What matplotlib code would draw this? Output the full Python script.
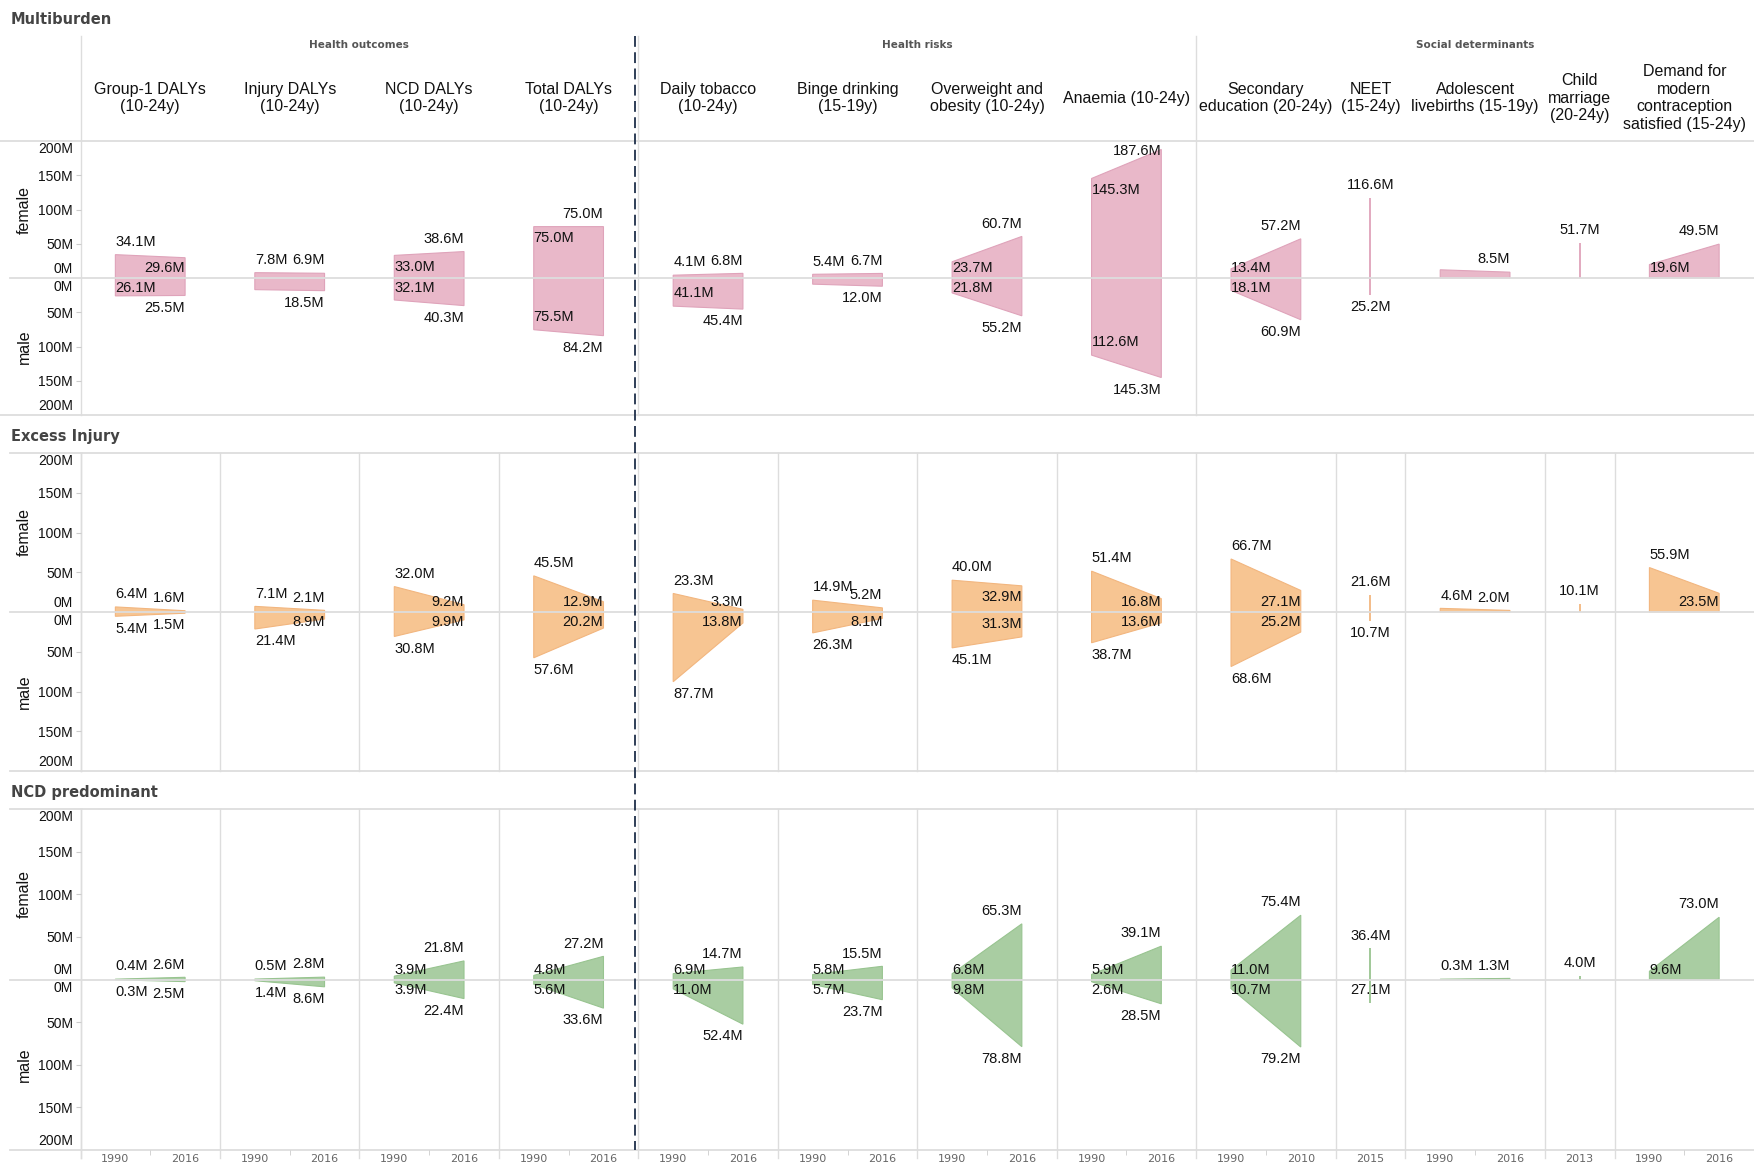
import matplotlib.pyplot as plt
import matplotlib.transforms as mtransforms
from matplotlib.lines import Line2D

plt.rcParams['font.family'] = ['Liberation Sans', 'DejaVu Sans']

W, H, DPI = 1754, 1167, 100

# indicator columns (title, years shown)
titles = ["Group-1 DALYs\n(10-24y)", "Injury DALYs\n(10-24y)", "NCD DALYs\n(10-24y)",
          "Total DALYs\n(10-24y)", "Daily tobacco\n(10-24y)", "Binge drinking\n(15-19y)",
          "Overweight and\nobesity (10-24y)", "Anaemia (10-24y)",
          "Secondary\neducation (20-24y)", "NEET\n(15-24y)", "Adolescent\nlivebirths (15-19y)",
          "Child\nmarriage\n(20-24y)", "Demand for\nmodern\ncontraception\nsatisfied (15-24y)"]
years = [("1990", "2016")] * 8 + [("1990", "2010"), ("2015",), ("1990", "2016"),
                                  ("2013",), ("1990", "2016")]
groups = [("Health outcomes", 0, 4), ("Health risks", 4, 8), ("Social determinants", 8, 13)]

row_names = ["Multiburden", "Excess Injury", "NCD predominant"]
fills = ["#E9B8C9", "#F7C592", "#A9CDA2"]
edges = ["#DFA3BA", "#F2B67F", "#98C490"]

# values in millions; label codes per year: o = outside, i = inside, - = no label
mb_female = [(34.1, 29.6), (7.8, 6.9), (33.0, 38.6), (75.0, 75.0), (4.1, 6.8), (5.4, 6.7),
             (23.7, 60.7), (145.3, 187.6), (13.4, 57.2), (116.6,), (12.0, 8.5), (51.7,), (19.6, 49.5)]
mb_female_lab = ["oi", "oo", "io", "io", "oo", "oo", "io", "io", "io", "o", "-o", "o", "io"]
mb_male = [(26.1, 25.5), (17.0, 18.5), (32.1, 40.3), (75.5, 84.2), (41.1, 45.4), (9.0, 12.0),
           (21.8, 55.2), (112.6, 145.3), (18.1, 60.9), (25.2,), None, None, None]
mb_male_lab = ["io", "-o", "io", "io", "io", "-o", "io", "io", "io", "o", "", "", ""]

ei_female = [(6.4, 1.6), (7.1, 2.1), (32.0, 9.2), (45.5, 12.9), (23.3, 3.3), (14.9, 5.2),
             (40.0, 32.9), (51.4, 16.8), (66.7, 27.1), (21.6,), (4.6, 2.0), (10.1,), (55.9, 23.5)]
ei_female_lab = ["oo", "oo", "oi", "oi", "oi", "oo", "oi", "oi", "oi", "o", "oo", "o", "oi"]
ei_male = [(5.4, 1.5), (21.4, 8.9), (30.8, 9.9), (57.6, 20.2), (87.7, 13.8), (26.3, 8.1),
           (45.1, 31.3), (38.7, 13.6), (68.6, 25.2), (10.7,), None, None, None]
ei_male_lab = ["oo", "oi", "oi", "oi", "oi", "oi", "oi", "oi", "oi", "o", "", "", ""]

ncd_female = [(0.4, 2.6), (0.5, 2.8), (3.9, 21.8), (4.8, 27.2), (6.9, 14.7), (5.8, 15.5),
              (6.8, 65.3), (5.9, 39.1), (11.0, 75.4), (36.4,), (0.3, 1.3), (4.0,), (9.6, 73.0)]
ncd_female_lab = ["oo", "oo", "io", "io", "io", "io", "io", "io", "io", "o", "oo", "o", "io"]
ncd_male = [(0.3, 2.5), (1.4, 8.6), (3.9, 22.4), (5.6, 33.6), (11.0, 52.4), (5.7, 23.7),
            (9.8, 78.8), (2.6, 28.5), (10.7, 79.2), (27.1,), None, None, None]
ncd_male_lab = ["oo", "oo", "io", "io", "io", "io", "io", "io", "io", "i", "", "", ""]

row_data = [(mb_female, mb_female_lab, mb_male, mb_male_lab),
            (ei_female, ei_female_lab, ei_male, ei_male_lab),
            (ncd_female, ncd_female_lab, ncd_male, ncd_male_lab)]

# layout in pixels
X0 = 80.5
row_px = [(141, 415), (453, 771), (809, 1150)]
row_title_y = [19, 436, 793]
widths = [len(y) for y in years]
starts = [sum(widths[:i]) for i in range(len(widths))]
NSLOT = sum(widths)

GRID = "#dddddd"
TXT = "#111111"
LAB_FS = 10.5
CAP = 0.716 * LAB_FS * DPI / 72

fig = plt.figure(figsize=(W / DPI, H / DPI), dpi=DPI)


def label(ax, x, v, side, mode, ha, ppm, half):
    p = v * ppm
    if mode == "o":
        c = p + (14 if side > 0 else 11)
    else:
        c = max(p - (10 if side > 0 else 14), 11 if side > 0 else 9)
    c = min(c, half - 9)
    ax.annotate(f"{v:.1f}M", xy=(x, 0), xytext=(0, side * c - CAP / 2),
                textcoords="offset pixels", ha=ha, va="baseline",
                fontsize=LAB_FS, color=TXT, zorder=5)


axes = []
for r, (top, bot) in enumerate(row_px):
    ax = fig.add_axes([X0 / W, 1 - bot / H, (W - X0) / W, (bot - top) / H])
    axes.append(ax)
    ax.set_xlim(0, NSLOT)
    ax.set_ylim(-200, 200)
    for s in ax.spines.values():
        s.set_visible(False)
    ppm = (bot - top) / 400.0
    half = (bot - top) / 2.0

    female, flab, male, mlab = row_data[r]
    for i in range(len(titles)):
        xs = [starts[i] + 0.5 + k for k in range(widths[i])]
        f = female[i]
        m = male[i] if male[i] is not None else (0,) * len(f)
        if len(xs) == 2:
            ax.fill([xs[0], xs[1], xs[1], xs[0]], [f[0], f[1], -m[1], -m[0]],
                    facecolor=fills[r], edgecolor=edges[r], lw=0.8, zorder=2)
            has = ["left", "right"]
        else:
            ax.vlines(xs[0], -m[0], f[0], color=edges[r], lw=1.3, zorder=2)
            has = ["center"]
        for k, x in enumerate(xs):
            if flab[i][k] in "oi":
                label(ax, x, f[k], 1, flab[i][k], has[k], ppm, half)
            if male[i] is not None and mlab[i][k] in "oi":
                label(ax, x, m[k], -1, mlab[i][k], has[k], ppm, half)

    # frame lines
    x_from = -X0 / (W - X0) if r == 0 else -(X0 - 10) / (W - X0)
    for yy in (200, -200):
        ax.plot([x_from, 1], [yy, yy], transform=ax.get_yaxis_transform(),
                color=GRID, lw=1.3, clip_on=False, zorder=1)
    ax.plot([-(X0 - 10) / (W - X0), 1], [0, 0], transform=ax.get_yaxis_transform(),
            color=GRID, lw=1.3, clip_on=False, zorder=3)

    # column separators
    if r == 0:
        up = 1 + (top - 36) / (bot - top)
        for s in (0, starts[4], starts[8]):
            ax.axvline(s, ymin=0, ymax=up, color=GRID, lw=1.0, clip_on=False, zorder=1)
    else:
        low = -(8 / (bot - top)) if r == 2 else 0
        for s in starts + [0]:
            ax.axvline(s, ymin=low, ymax=1, color=GRID, lw=1.0, clip_on=False, zorder=1)

    # y axis
    ax.set_yticks([-150, -100, -50, 50, 100, 150])
    ax.set_yticklabels(["150M", "100M", "50M", "50M", "100M", "150M"])
    ax.tick_params(axis="y", length=3.6, width=0.8, color="#cccccc", pad=1.8,
                   labelsize=10, labelcolor=TXT)
    ycap = 0.716 * 10 * DPI / 72
    for txt, yv, off in [("200M", 200, -7), ("0M", 0, 10), ("0M", 0, -8), ("200M", -200, 10)]:
        ax.annotate(txt, xy=(0, yv), xytext=(-7.5, off - ycap / 2), textcoords="offset pixels",
                    ha="right", va="baseline", fontsize=10, color=TXT, annotation_clip=False)
    ax.text(-(X0 - 24.6) / (W - X0), 0.75, "female", transform=ax.transAxes, rotation=90,
            ha="center", va="center", fontsize=11.5, color=TXT)
    ax.text(-(X0 - 24.6) / (W - X0), 0.25, "male", transform=ax.transAxes, rotation=90,
            ha="center", va="center", fontsize=11.5, color=TXT)

    # x axis
    if r == 2:
        pos, labs = [], []
        for i in range(len(titles)):
            for k, yr in enumerate(years[i]):
                pos.append(starts[i] + 0.5 + k)
                labs.append(yr)
        ax.set_xticks(pos)
        ax.set_xticklabels(labs, fontfamily="DejaVu Sans", fontsize=8, color="#666666")
        ax.set_xticks([starts[i] + 1 for i in range(len(titles)) if widths[i] == 2], minor=True)
        ax.tick_params(axis="x", which="major", length=0, pad=3.2)
        ax.tick_params(axis="x", which="minor", length=3.6, color="#cccccc")
    else:
        ax.set_xticks([])

    fig.text(11 / W, 1 - row_title_y[r] / H, row_names[r], ha="left", va="center",
             fontfamily="DejaVu Sans", fontweight="bold", fontsize=10.5, color="#444444")

# header: groups and indicator titles
ax0 = axes[0]
to_fig = mtransforms.blended_transform_factory(ax0.transData, fig.transFigure)
for name, a, b in groups:
    xc = (starts[a] + starts[b - 1] + widths[b - 1]) / 2
    fig.text(xc, 1 - 45 / H, name, transform=to_fig, ha="center", va="center",
             fontfamily="DejaVu Sans", fontweight="bold", fontsize=7.5, color="#555555")
for i, t in enumerate(titles):
    fig.text(starts[i] + widths[i] / 2, 1 - 98 / H, t, transform=to_fig, ha="center",
             va="center", fontsize=11.5, color=TXT, linespacing=1.2)

# dashed divider between health outcomes and health risks
fig.add_artist(Line2D([starts[4] - 0.05] * 2, [1 - 36 / H, 1 - 1150 / H], transform=to_fig,
                      color="#1f2f4a", lw=1.3, linestyle=(0, (6, 3)), zorder=10))

fig.savefig("out.png", dpi=DPI)
